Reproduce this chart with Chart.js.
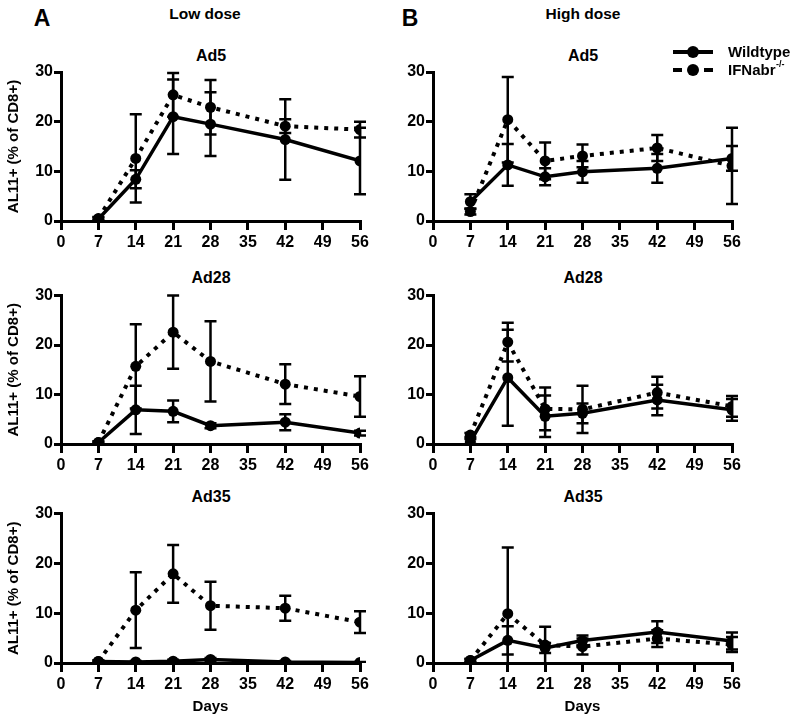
<!DOCTYPE html>
<html><head><meta charset="utf-8">
<script src="https://cdn.jsdelivr.net/npm/chart.js@4.4.0/dist/chart.umd.min.js"></script>
<style>
body{margin:0;background:#fff;}
#wrap{position:relative;width:800px;height:721px;font-family:"Liberation Sans",Arial,sans-serif;font-weight:bold;color:#000;overflow:hidden;}
canvas{position:absolute;}
.lbl{position:absolute;transform:translate(-50%,-50%);white-space:nowrap;line-height:1;}
</style></head><body>
<div id="wrap">
  <div class="lbl" style="left:42px;top:18px;font-size:23px;">A</div>
  <div class="lbl" style="left:410px;top:18px;font-size:23px;">B</div>
  <div class="lbl" style="left:205px;top:14px;font-size:15.5px;">Low dose</div>
  <div class="lbl" style="left:583px;top:14px;font-size:15.5px;">High dose</div>
  <div class="lbl" style="left:211px;top:56px;font-size:16px;">Ad5</div>
  <div class="lbl" style="left:583px;top:56px;font-size:16px;">Ad5</div>
  <div class="lbl" style="left:211px;top:278px;font-size:16px;">Ad28</div>
  <div class="lbl" style="left:583px;top:278px;font-size:16px;">Ad28</div>
  <div class="lbl" style="left:211px;top:497px;font-size:16px;">Ad35</div>
  <div class="lbl" style="left:583px;top:497px;font-size:16px;">Ad35</div>
  <canvas id="c1" width="400" height="211" style="left:0;top:40px"></canvas>
  <canvas id="c2" width="400" height="211" style="left:400px;top:40px"></canvas>
  <canvas id="c3" width="400" height="189" style="left:0;top:285px"></canvas>
  <canvas id="c4" width="400" height="189" style="left:400px;top:285px"></canvas>
  <canvas id="c5" width="400" height="215" style="left:0;top:503px"></canvas>
  <canvas id="c6" width="400" height="215" style="left:400px;top:503px"></canvas>
</div>
<script>
// ---- data ----
const days = [7, 14, 21, 28, 42, 56];
const xTickValues = [0, 7, 14, 21, 28, 35, 42, 49, 56];
const yTickValues = [0, 10, 20, 30];
const seriesLabels = ['Wildtype', 'IFNabr'];
const seriesSup = ['', '-/-'];
const yAxisTitle = 'AL11+ (% of CD8+)';
const xAxisTitle = 'Days';

const lowAd5WT = [0.4, 8.4, 21.0, 19.5, 16.4, 12.1];
const lowAd5WTErr = [0.3, 1.8, 7.5, 6.4, 8.1, 6.7];
const lowAd5KO = [0.5, 12.6, 25.4, 22.9, 19.1, 18.4];
const lowAd5KOErr = [0.3, 8.9, 4.4, 5.5, 1.4, 1.6];

const highAd5WT = [3.9, 11.3, 8.9, 9.9, 10.6, 12.6];
const highAd5WTErr = [1.5, 4.2, 1.7, 2.2, 2.9, 2.5];
const highAd5KO = [1.9, 20.4, 12.1, 13.1, 14.7, 11.1];
const highAd5KOErr = [0.6, 8.6, 3.7, 2.3, 2.6, 7.7];

const lowAd28WT = [0.3, 6.9, 6.6, 3.7, 4.4, 2.2];
const lowAd28WTErr = [0.2, 4.9, 2.2, 0.5, 1.6, 0.5];
const lowAd28KO = [0.3, 15.7, 22.6, 16.7, 12.1, 9.6];
const lowAd28KOErr = [0.2, 8.5, 7.4, 8.1, 4.0, 4.1];

const highAd28WT = [0.5, 13.4, 5.6, 6.2, 8.9, 6.9];
const highAd28WTErr = [0.5, 9.7, 4.2, 2.0, 3.1, 2.2];
const highAd28KO = [1.8, 20.6, 7.1, 7.0, 10.4, 7.6];
const highAd28KOErr = [0.4, 3.9, 4.3, 4.8, 3.2, 2.1];

const lowAd35WT = [0.3, 0.2, 0.35, 0.7, 0.2, 0.1];
const lowAd35WTErr = [0.2, 0.2, 0.3, 0.3, 0.2, 0.1];
const lowAd35KO = [0.3, 10.6, 17.9, 11.5, 11.0, 8.2];
const lowAd35KOErr = [0.2, 7.6, 5.8, 4.8, 2.5, 2.2];

const highAd35WT = [0.5, 4.55, 3.0, 4.5, 6.2, 4.4];
const highAd35WTErr = [0.3, 2.85, 1.0, 1.0, 2.2, 1.7];
const highAd35KO = [0.5, 9.9, 3.6, 3.3, 4.9, 3.7];
const highAd35KOErr = [0.3, 13.3, 3.7, 1.6, 1.7, 1.5];

// ---- rendering ----
Chart.defaults.font.family = '"Liberation Sans", Arial, sans-serif';
Chart.defaults.font.weight = 'bold';
Chart.defaults.color = '#000';

const errorBarPlugin = {
  id: 'errorBars',
  afterDatasetsDraw(chart) {
    const ctx = chart.ctx, xs = chart.scales.x, ys = chart.scales.y, a = chart.chartArea;
    ctx.save();
    ctx.beginPath();
    ctx.rect(a.left - 10, a.top - 3, a.width + 20, a.height + 3);
    ctx.clip();
    ctx.strokeStyle = '#000';
    ctx.lineWidth = 2.5;
    ctx.setLineDash([]);
    chart.data.datasets.forEach(ds => {
      ds.data.forEach((p, j) => {
        const e = ds.errorBars[j];
        const px = xs.getPixelForValue(p.x);
        const hi = ys.getPixelForValue(p.y + e);
        const lo = ys.getPixelForValue(p.y - e);
        ctx.beginPath();
        ctx.moveTo(px, hi); ctx.lineTo(px, lo);
        ctx.moveTo(px - 6, hi); ctx.lineTo(px + 6, hi);
        ctx.moveTo(px - 6, lo); ctx.lineTo(px + 6, lo);
        ctx.stroke();
      });
    });
    ctx.restore();
  }
};

const legendPlugin = {
  id: 'customLegend',
  afterDraw(chart, args, opts) {
    if (!opts.show) return;
    const ctx = chart.ctx, a = chart.chartArea;
    const x0 = a.right - 59, x1 = a.right - 19, xm = (x0 + x1) / 2, tx = a.right - 4;
    const rows = [a.top - 20, a.top - 2];
    chart.data.datasets.forEach((ds, i) => {
      const y = rows[i];
      ctx.save();
      ctx.strokeStyle = '#000';
      ctx.lineWidth = 4;
      ctx.lineCap = 'butt';
      ctx.setLineDash(i === 0 ? [] : [9, 22]);
      ctx.beginPath(); ctx.moveTo(x0, y); ctx.lineTo(x1, y); ctx.stroke();
      ctx.setLineDash([]);
      ctx.fillStyle = '#000';
      ctx.beginPath(); ctx.arc(xm, y, 6, 0, Math.PI * 2); ctx.fill();
      ctx.font = 'bold 15px "Liberation Sans", Arial, sans-serif';
      ctx.textBaseline = 'middle';
      ctx.textAlign = 'left';
      ctx.fillText(ds.label, tx, y + 1);
      if (ds.sup) {
        const w = ctx.measureText(ds.label).width;
        ctx.font = 'bold 9px "Liberation Sans", Arial, sans-serif';
        ctx.fillText(ds.sup, tx + w + 0.5, y - 5);
      }
      ctx.restore();
    });
  }
};

function toPoints(vals) { return days.map((d, i) => ({ x: d, y: vals[i] })); }

function makeChart(id, wt, wtErr, ko, koErr, cfg) {
  const leftCol = cfg.left;
  return new Chart(document.getElementById(id), {
    type: 'line',
    data: {
      datasets: [
        { label: seriesLabels[0], sup: seriesSup[0], data: toPoints(wt), errorBars: wtErr,
          borderColor: '#000', backgroundColor: '#000', borderWidth: 3.5, tension: 0,
          pointRadius: 5.5, pointBackgroundColor: '#000', pointBorderWidth: 0, pointHoverRadius: 5.5 },
        { label: seriesLabels[1], sup: seriesSup[1], data: toPoints(ko), errorBars: koErr,
          borderColor: '#000', backgroundColor: '#000', borderWidth: 4, borderDash: [4, 6], borderCapStyle: 'butt', tension: 0,
          pointRadius: 5.5, pointBackgroundColor: '#000', pointBorderWidth: 0, pointHoverRadius: 5.5 }
      ]
    },
    options: {
      responsive: false, animation: false, devicePixelRatio: 1,
      layout: { padding: { left: 0, right: leftCol ? 40 : 68, top: cfg.top, bottom: 0 } },
      plugins: { legend: { display: false }, tooltip: { enabled: false }, customLegend: { show: !!cfg.legend } },
      scales: {
        x: {
          type: 'linear', min: 0, max: 56,
          afterBuildTicks: s => { s.ticks = xTickValues.map(v => ({ value: v })); },
          afterFit: s => { s.height = cfg.xh; },
          ticks: { font: { size: 16, weight: 'bold' }, color: '#000', padding: 3, maxRotation: 0, autoSkip: false },
          grid: { drawOnChartArea: false, drawTicks: true, tickLength: 9, tickWidth: 3, lineWidth: 3, tickColor: '#000', color: '#000' },
          border: { display: true, width: 3, color: '#000' },
          title: { display: !!cfg.xTitle, text: xAxisTitle, font: { size: 15, weight: 'bold' }, color: '#000', padding: { top: 0, bottom: 2 } }
        },
        y: {
          type: 'linear', min: 0, max: 30,
          afterBuildTicks: s => { s.ticks = yTickValues.map(v => ({ value: v })); },
          afterFit: s => { s.width = leftCol ? 61 : 33; },
          ticks: { font: { size: 16, weight: 'bold' }, color: '#000', padding: 1 },
          grid: { drawOnChartArea: false, drawTicks: true, tickLength: 7, tickWidth: 3, lineWidth: 3, tickColor: '#000', color: '#000' },
          border: { display: true, width: 3, color: '#000' },
          title: { display: leftCol, text: yAxisTitle, font: { size: 15, weight: 'bold' }, color: '#000', padding: { top: 4.5, bottom: 0 } }
        }
      }
    },
    plugins: [errorBarPlugin, legendPlugin]
  });
}

makeChart('c1', lowAd5WT, lowAd5WTErr, lowAd5KO, lowAd5KOErr, { left: true, top: 32, xh: 30 });
makeChart('c2', highAd5WT, highAd5WTErr, highAd5KO, highAd5KOErr, { left: false, top: 32, xh: 30, legend: true });
makeChart('c3', lowAd28WT, lowAd28WTErr, lowAd28KO, lowAd28KOErr, { left: true, top: 10, xh: 30 });
makeChart('c4', highAd28WT, highAd28WTErr, highAd28KO, highAd28KOErr, { left: false, top: 10, xh: 30 });
makeChart('c5', lowAd35WT, lowAd35WTErr, lowAd35KO, lowAd35KOErr, { left: true, top: 10, xh: 55, xTitle: true });
makeChart('c6', highAd35WT, highAd35WTErr, highAd35KO, highAd35KOErr, { left: false, top: 10, xh: 55, xTitle: true });
</script>
</body></html>
